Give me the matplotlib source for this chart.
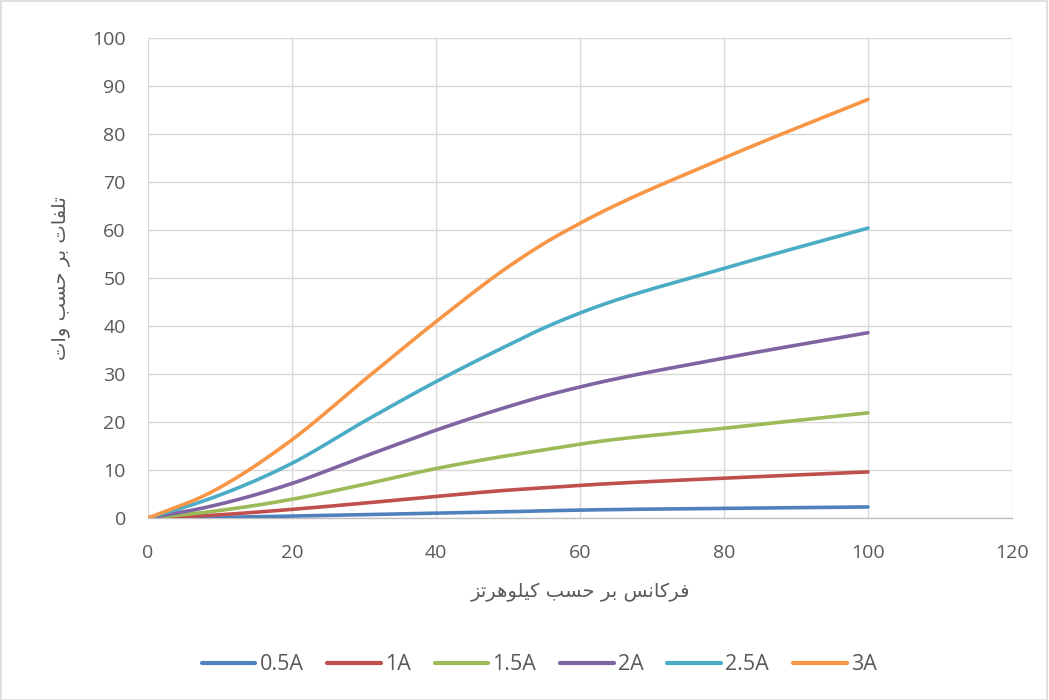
import numpy as np
import matplotlib
matplotlib.use("Agg")
import matplotlib.pyplot as plt
from matplotlib.patches import Rectangle

# ---- data -------------------------------------------------------------
freq_khz = [0, 8, 20, 30, 40, 50, 55, 60, 80, 100]
series_labels = ["0.5A", "1A", "1.5A", "2A", "2.5A", "3A"]
loss_05a = [0, 0.1, 0.4, 0.7, 1.0, 1.3, 1.5, 1.65, 2.0, 2.3]
loss_1a = [0, 0.5, 1.8, 3.1, 4.5, 5.8, 6.3, 6.8, 8.3, 9.6]
loss_15a = [0, 1.2, 3.9, 7.0, 10.3, 13.0, 14.2, 15.4, 18.7, 21.9]
loss_2a = [0, 2.2, 7.2, 12.8, 18.3, 23.2, 25.4, 27.3, 33.3, 38.6]
loss_25a = [0, 3.7, 11.4, 20.1, 28.4, 36.0, 39.6, 42.7, 52.0, 60.4]
loss_3a = [0, 4.8, 16.3, 28.7, 40.9, 52.3, 57.2, 61.4, 75.0, 87.2]
series_values = [loss_05a, loss_1a, loss_15a, loss_2a, loss_25a, loss_3a]
colors = ["#4F81BD", "#C0504D", "#9BBB59", "#8064A2", "#4BACC6", "#F79646"]

x_ticks = [0, 20, 40, 60, 80, 100, 120]
y_ticks = [0, 10, 20, 30, 40, 50, 60, 70, 80, 90, 100]

x_title = "فرکانس بر حسب کیلوهرتز"
y_title = "تلفات بر حسب وات"

# ---- minimal Arabic-script shaping for the axis titles ----------------
# (isolated, final, initial, medial); two-form letters join only to the right
FORMS = {
    "ا": ("\uFE8D", "\uFE8E", None, None),
    "ب": ("\uFE8F", "\uFE90", "\uFE91", "\uFE92"),
    "ت": ("\uFE95", "\uFE96", "\uFE97", "\uFE98"),
    "ح": ("\uFEA1", "\uFEA2", "\uFEA3", "\uFEA4"),
    "ر": ("\uFEAD", "\uFEAE", None, None),
    "ز": ("\uFEAF", "\uFEB0", None, None),
    "س": ("\uFEB1", "\uFEB2", "\uFEB3", "\uFEB4"),
    "ف": ("\uFED1", "\uFED2", "\uFED3", "\uFED4"),
    "ل": ("\uFEDD", "\uFEDE", "\uFEDF", "\uFEE0"),
    "ن": ("\uFEE5", "\uFEE6", "\uFEE7", "\uFEE8"),
    "ه": ("\uFEE9", "\uFEEA", "\uFEEB", "\uFEEC"),
    "و": ("\uFEED", "\uFEEE", None, None),
    "ک": ("\uFED9", "\uFEDA", "\uFEDB", "\uFEDC"),
    "ی": ("\uFEEF", "\uFEF0", "\uFEF3", "\uFEF4"),
}


def shape_rtl(text):
    out = []
    chars = list(text)
    for i, ch in enumerate(chars):
        if ch not in FORMS:
            out.append(ch)
            continue
        prev = chars[i - 1] if i > 0 else None
        nxt = chars[i + 1] if i + 1 < len(chars) else None
        joins_prev = prev in FORMS and FORMS[prev][2] is not None
        joins_next = nxt in FORMS and FORMS[ch][2] is not None
        iso, fin, ini, med = FORMS[ch]
        if joins_prev and joins_next:
            out.append(med)
        elif joins_prev:
            out.append(fin)
        elif joins_next:
            out.append(ini)
        else:
            out.append(iso)
    return "".join(reversed(out))


# ---- smoothed line: cubic Hermite, three-point slopes ------------------
def smooth(xs, ys, n=80):
    x = np.asarray(xs, float)
    y = np.asarray(ys, float)
    h = np.diff(x)
    d = np.diff(y) / h
    m = np.empty_like(y)
    m[1:-1] = (h[1:] * d[:-1] + h[:-1] * d[1:]) / (h[:-1] + h[1:])
    m[0] = d[0]
    m[-1] = d[-1]
    out_x, out_y = [], []
    t = np.linspace(0, 1, n)
    h00 = 2 * t ** 3 - 3 * t ** 2 + 1
    h10 = t ** 3 - 2 * t ** 2 + t
    h01 = -2 * t ** 3 + 3 * t ** 2
    h11 = t ** 3 - t ** 2
    for i in range(len(x) - 1):
        seg_y = h00 * y[i] + h10 * h[i] * m[i] + h01 * y[i + 1] + h11 * h[i] * m[i + 1]
        seg_x = x[i] + t * h[i]
        if i > 0:
            seg_x, seg_y = seg_x[1:], seg_y[1:]
        out_x.append(seg_x)
        out_y.append(seg_y)
    return np.concatenate(out_x), np.concatenate(out_y)


plt.rcParams["font.family"] = ["Open Sans", "DejaVu Sans"]
text_color = "#595959"

fig = plt.figure(figsize=(10.49, 7.0), dpi=100)
ax = fig.add_axes([148 / 1049, 1 - 518 / 700, (1012 - 148) / 1049, (518 - 38) / 700])

for label, vals, col in zip(series_labels, series_values, colors):
    sx, sy = smooth(freq_khz, vals)
    ax.plot(sx, sy, color=col, lw=2.6, label=label, solid_capstyle="round", zorder=3)

ax.set_xlim(0, 120)
ax.set_ylim(0, 100)
ax.set_xticks(x_ticks)
ax.set_yticks(y_ticks)
ax.grid(True, color="#D9D9D9", lw=1.0, zorder=0)
ax.set_axisbelow(True)
for side in ["top", "right", "left"]:
    ax.spines[side].set_visible(False)
ax.spines["bottom"].set_color("#BFBFBF")
ax.spines["bottom"].set_linewidth(1.0)
ax.tick_params(axis="both", length=0, labelsize=14, labelcolor=text_color)
ax.tick_params(axis="x", pad=19)
ax.tick_params(axis="y", pad=16)

fig.text(580 / 1049, 1 - 592 / 700, shape_rtl(x_title), ha="center", va="center",
         fontsize=14, color=text_color, family="DejaVu Sans")
fig.text(60 / 1049, 1 - 278 / 700, shape_rtl(y_title), ha="center", va="center",
         rotation=90, fontsize=14, color=text_color, family="DejaVu Sans")

leg = fig.legend(loc="center", bbox_to_anchor=(539 / 1049, 1 - 665 / 700), ncol=6,
                 frameon=False, fontsize=15.5, handlelength=2.5, handletextpad=0.19,
                 columnspacing=1.1, labelcolor=text_color)
for h in leg.get_lines():
    h.set_linewidth(3.0)

fig.patches.append(Rectangle((0.0005, 0.0007), 0.998, 0.998, transform=fig.transFigure,
                             fill=False, edgecolor="#D9D9D9", lw=1.2))

fig.savefig("out.png", dpi=100)
